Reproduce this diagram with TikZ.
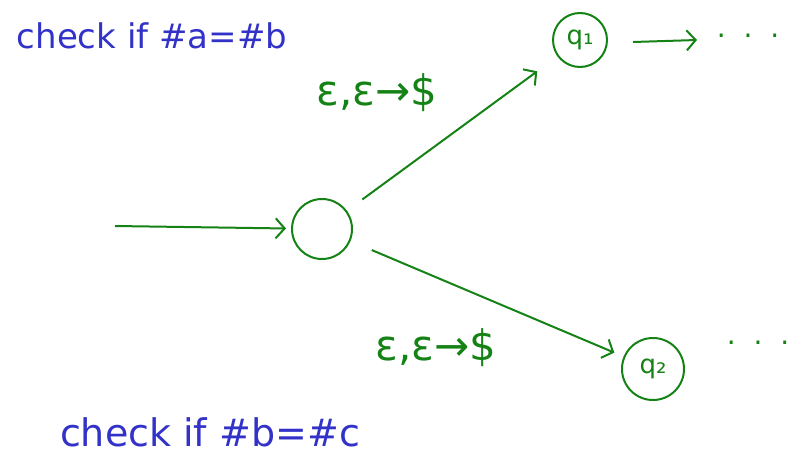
\documentclass[tikz,border=0pt]{standalone}
\usepackage{fontspec}
\setmainfont{DejaVu Sans}
\usetikzlibrary{arrows.meta}
\definecolor{hgreen}{RGB}{20,130,20}
\definecolor{hblue}{RGB}{50,50,200}
\tikzset{
  state/.style={circle,draw=hgreen,line width=2pt,text=hgreen,inner sep=0pt,font=\fontsize{26}{28}\selectfont},
  trans/.style={draw=hgreen,line width=2pt,-{Straight Barb[length=9pt,width=20pt]}},
  lbl/.style={text=hgreen,font=\fontsize{42}{46}\selectfont},
  dots/.style={text=hgreen,font=\fontsize{28}{30}\selectfont,inner sep=1pt}
}
\begin{document}
\begin{tikzpicture}[x=1pt,y=-1pt]
\useasboundingbox (0,0) rectangle (792,463);
\node[state,minimum size=60pt] (s) at (322,229) {};
\node[state,minimum size=54pt] (q1) at (580,40) {q₁};
\node[state,minimum size=62pt] (q2) at (653,369) {q₂};
\coordinate (in) at (115,226);
\coordinate (q1s) at (633,42);
\coordinate (q1out) at (697,40);
\draw[trans,shorten >=5pt] (in) -- (s);
\draw[trans,shorten <=19pt,shorten >=25pt] (s) -- (q1);
\draw[trans,shorten <=23pt,shorten >=10pt] (s) -- (q2);
\draw[trans] (q1s) -- (q1out);
\node[dots] (d1) at (748,36) {.\ \ .\ \ .};
\node[dots] (d2) at (758,343) {.\ \ .\ \ .};
\node[lbl] (l1) at (377,93) {ε,ε→\$};
\node[lbl] (l2) at (436,348) {ε,ε→\$};
\node[text=hblue,font=\fontsize{34}{36}\selectfont] (n1) at (152,36) {check if \#a=\#b};
\node[text=hblue,font=\fontsize{38}{40}\selectfont] (n2) at (210,432) {check if \#b=\#c};
\end{tikzpicture}
\end{document}
